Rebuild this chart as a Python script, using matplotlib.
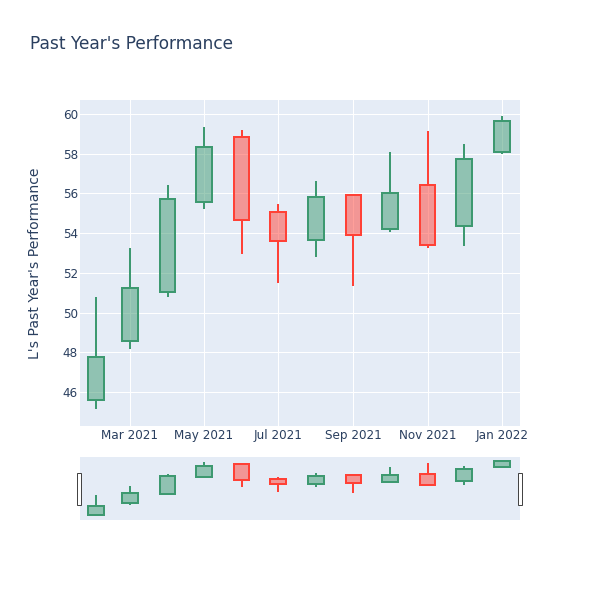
import matplotlib
matplotlib.use("Agg")
import matplotlib.dates as mdates
import matplotlib.pyplot as plt
import pandas as pd
from matplotlib.patches import Rectangle

# monthly candles
dates = ["2021-02-01", "2021-03-01", "2021-04-01", "2021-05-01", "2021-06-01", "2021-07-01",
         "2021-08-01", "2021-09-01", "2021-10-01", "2021-11-01", "2021-12-01", "2022-01-01"]
opens = [45.60, 48.59, 51.02, 55.57, 58.83, 55.06, 53.65, 55.94, 54.22, 56.41, 54.38, 58.07]
highs = [50.80, 53.23, 56.41, 59.36, 59.19, 55.45, 56.64, 55.96, 58.10, 59.16, 58.47, 59.90]
lows = [45.13, 48.15, 50.77, 55.20, 52.93, 51.51, 52.78, 51.34, 54.06, 53.23, 53.37, 57.99]
closes = [47.75, 51.22, 55.72, 58.35, 54.66, 53.60, 55.84, 53.91, 56.04, 53.42, 57.72, 59.65]

tick_dates = ["2021-03-01", "2021-05-01", "2021-07-01", "2021-09-01", "2021-11-01", "2022-01-01"]
y_ticks = [46, 48, 50, 52, 54, 56, 58, 60]

TITLE = "Past Year's Performance"
Y_LABEL = "L's Past Year's Performance"

BG = "#E5ECF6"
FONT_COLOR = "#2a3f5f"
UP = "#3D9970"
DOWN = "#FF4136"
W = 600
H = 600

plt.rcParams["font.family"] = ["DejaVu Sans"]


def _px(v):
    # pixels -> points at dpi 100
    return v * 0.72


def _draw_candles(ax, df, lw):
    for _, r in df.iterrows():
        up = r["close"] >= r["open"]
        col = UP if up else DOWN
        lo_body = min(r["open"], r["close"])
        hi_body = max(r["open"], r["close"])
        ax.bar(r["date"], hi_body - lo_body, bottom=lo_body, width=12.9,
               facecolor=col, alpha=0.5, edgecolor="none", zorder=3)
        ax.bar(r["date"], hi_body - lo_body, bottom=lo_body, width=12.9,
               facecolor="none", edgecolor=col, linewidth=lw, zorder=4)
        ax.vlines(r["date"], r["low"], lo_body, color=col, linewidth=lw, zorder=3)
        ax.vlines(r["date"], hi_body, r["high"], color=col, linewidth=lw, zorder=3)


def main():
    df = pd.DataFrame({
        "date": pd.to_datetime(dates),
        "open": opens, "high": highs, "low": lows, "close": closes,
    })
    xmin = pd.Timestamp("2021-01-19")
    xmax = pd.Timestamp("2022-01-16")

    fig = plt.figure(figsize=(6, 6), dpi=100)
    fig.patch.set_facecolor("white")

    # main panel: x 80..520, y 100..426 (pixels)
    ax = fig.add_axes([80 / W, 1 - 426 / H, 440 / W, 326 / H])
    ax.set_facecolor(BG)
    _draw_candles(ax, df, _px(2))
    ax.set_xlim(xmin, xmax)
    ax.set_ylim(44.29, 60.70)
    ax.set_yticks(y_ticks)
    ax.set_xticks(pd.to_datetime(tick_dates))
    ax.xaxis.set_major_formatter(mdates.DateFormatter("%b %Y"))
    ax.grid(True, color="white", linewidth=_px(1), zorder=0)
    ax.set_axisbelow(True)
    for s in ax.spines.values():
        s.set_visible(False)
    ax.tick_params(length=0, labelsize=_px(12), labelcolor=FONT_COLOR)
    ax.tick_params(axis="x", pad=2.5)
    ax.tick_params(axis="y", pad=1.5)

    # range slider: x 80..520, y 457..520
    rs = fig.add_axes([80 / W, 1 - 520 / H, 440 / W, 63 / H])
    rs.set_facecolor(BG)
    _draw_candles(rs, df, _px(2))
    rs.set_xlim(xmin, xmax)
    rs.set_ylim(44.16, 60.77)
    rs.set_xticks([])
    rs.set_yticks([])
    for s in rs.spines.values():
        s.set_visible(False)

    # slider handles
    for x0 in (77, 518):
        fig.patches.append(Rectangle((x0 / W, 1 - 505 / H), 3.5 / W, 32 / H,
                                     transform=fig.transFigure, facecolor="white",
                                     edgecolor="#444444", linewidth=_px(1), zorder=5))

    fig.text(30 / W, 1 - 44 / H, TITLE, fontsize=_px(17), color=FONT_COLOR,
             ha="left", va="center")
    fig.text(35 / W, 1 - 263 / H, Y_LABEL, fontsize=_px(14), color=FONT_COLOR,
             rotation=90, ha="center", va="center")

    fig.savefig("out.png", dpi=100)
    plt.close(fig)


if __name__ == "__main__":
    main()
